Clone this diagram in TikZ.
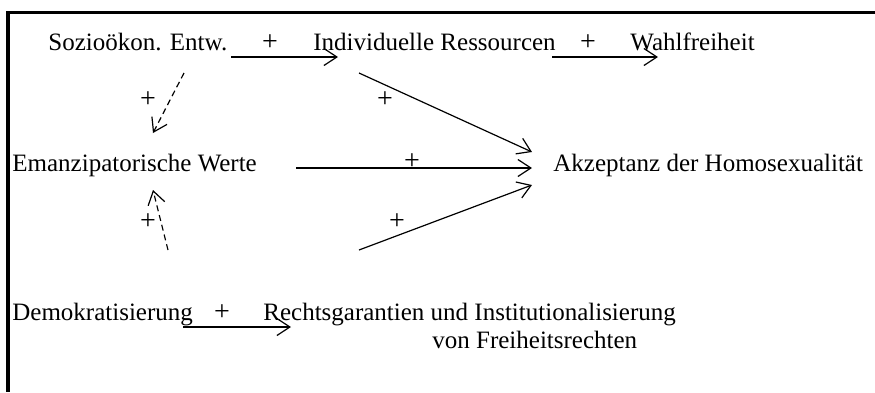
\documentclass[tikz,border=0pt]{standalone}
\usepackage{fontspec}
\setmainfont{Liberation Serif}
\usetikzlibrary{arrows.meta}
\begin{document}
\begin{tikzpicture}[x=0.5pt, y=-0.5pt,
  >={Straight Barb[length=6.5pt,width=8.5pt]},
  every node/.style={font=\fontsize{12.5}{15}\selectfont, inner sep=0pt},
  lbl/.style={anchor=base west},
  sign/.style={font=\fontsize{14}{16}\selectfont},
  link/.style={->, line width=0.6pt},
  hint/.style={->, dashed, dash pattern=on 3pt off 2pt, line width=0.6pt}]
\useasboundingbox (0,0) rectangle (875,392);
\draw[line width=1.5pt] (875,12) -- (8,12) -- (8,392);
% factors
\node[lbl] (soz) at (48,50) {Sozioökon. Entw.};
\node[lbl] (ind) at (313,50) {Individuelle Ressourcen};
\node[lbl] (wahl) at (630,50) {Wahlfreiheit};
\node[lbl] (emanz) at (12,171) {Emanzipatorische Werte};
\node[lbl] (akz) at (553,171) {Akzeptanz der Homosexualität};
\node[lbl] (demo) at (12,320) {Demokratisierung};
\node[lbl] (recht) at (263,320) {Rechtsgarantien und Institutionalisierung};
\node[lbl] (recht2) at (432,348) {von Freiheitsrechten};
% signs
\node[sign] (p1) at (270,43) {+};
\node[sign] (p2) at (588,43) {+};
\node[sign] (p3) at (148,100) {+};
\node[sign] (p4) at (385,100) {+};
\node[sign] (p5) at (412,162) {+};
\node[sign] (p6) at (397,222) {+};
\node[sign] (p7) at (148,222) {+};
\node[sign] (p8) at (222,313) {+};
% arrow ends
\coordinate (sozR) at (231,57);
\coordinate (indL) at (338,57);
\coordinate (indR) at (552,57);
\coordinate (wahlL) at (658,57);
\coordinate (sozD) at (184,73);
\coordinate (emanzU) at (153,133);
\coordinate (demoU) at (168,250);
\coordinate (emanzD) at (153,190);
\coordinate (indD) at (359,73);
\coordinate (emanzR) at (296,168);
\coordinate (rechtU) at (359,250);
\coordinate (akzA) at (532,152);
\coordinate (akzB) at (532,168);
\coordinate (akzC) at (532,185);
\coordinate (demoR) at (183,327);
\coordinate (rechtL) at (291,327);
\draw[link] (sozR) -- (indL);
\draw[link] (indR) -- (wahlL);
\draw[link] (demoR) -- (rechtL);
\draw[link] (indD) -- (akzA);
\draw[link] (emanzR) -- (akzB);
\draw[link] (rechtU) -- (akzC);
\draw[hint] (sozD) -- (emanzU);
\draw[hint] (demoU) -- (emanzD);
\end{tikzpicture}
\end{document}
